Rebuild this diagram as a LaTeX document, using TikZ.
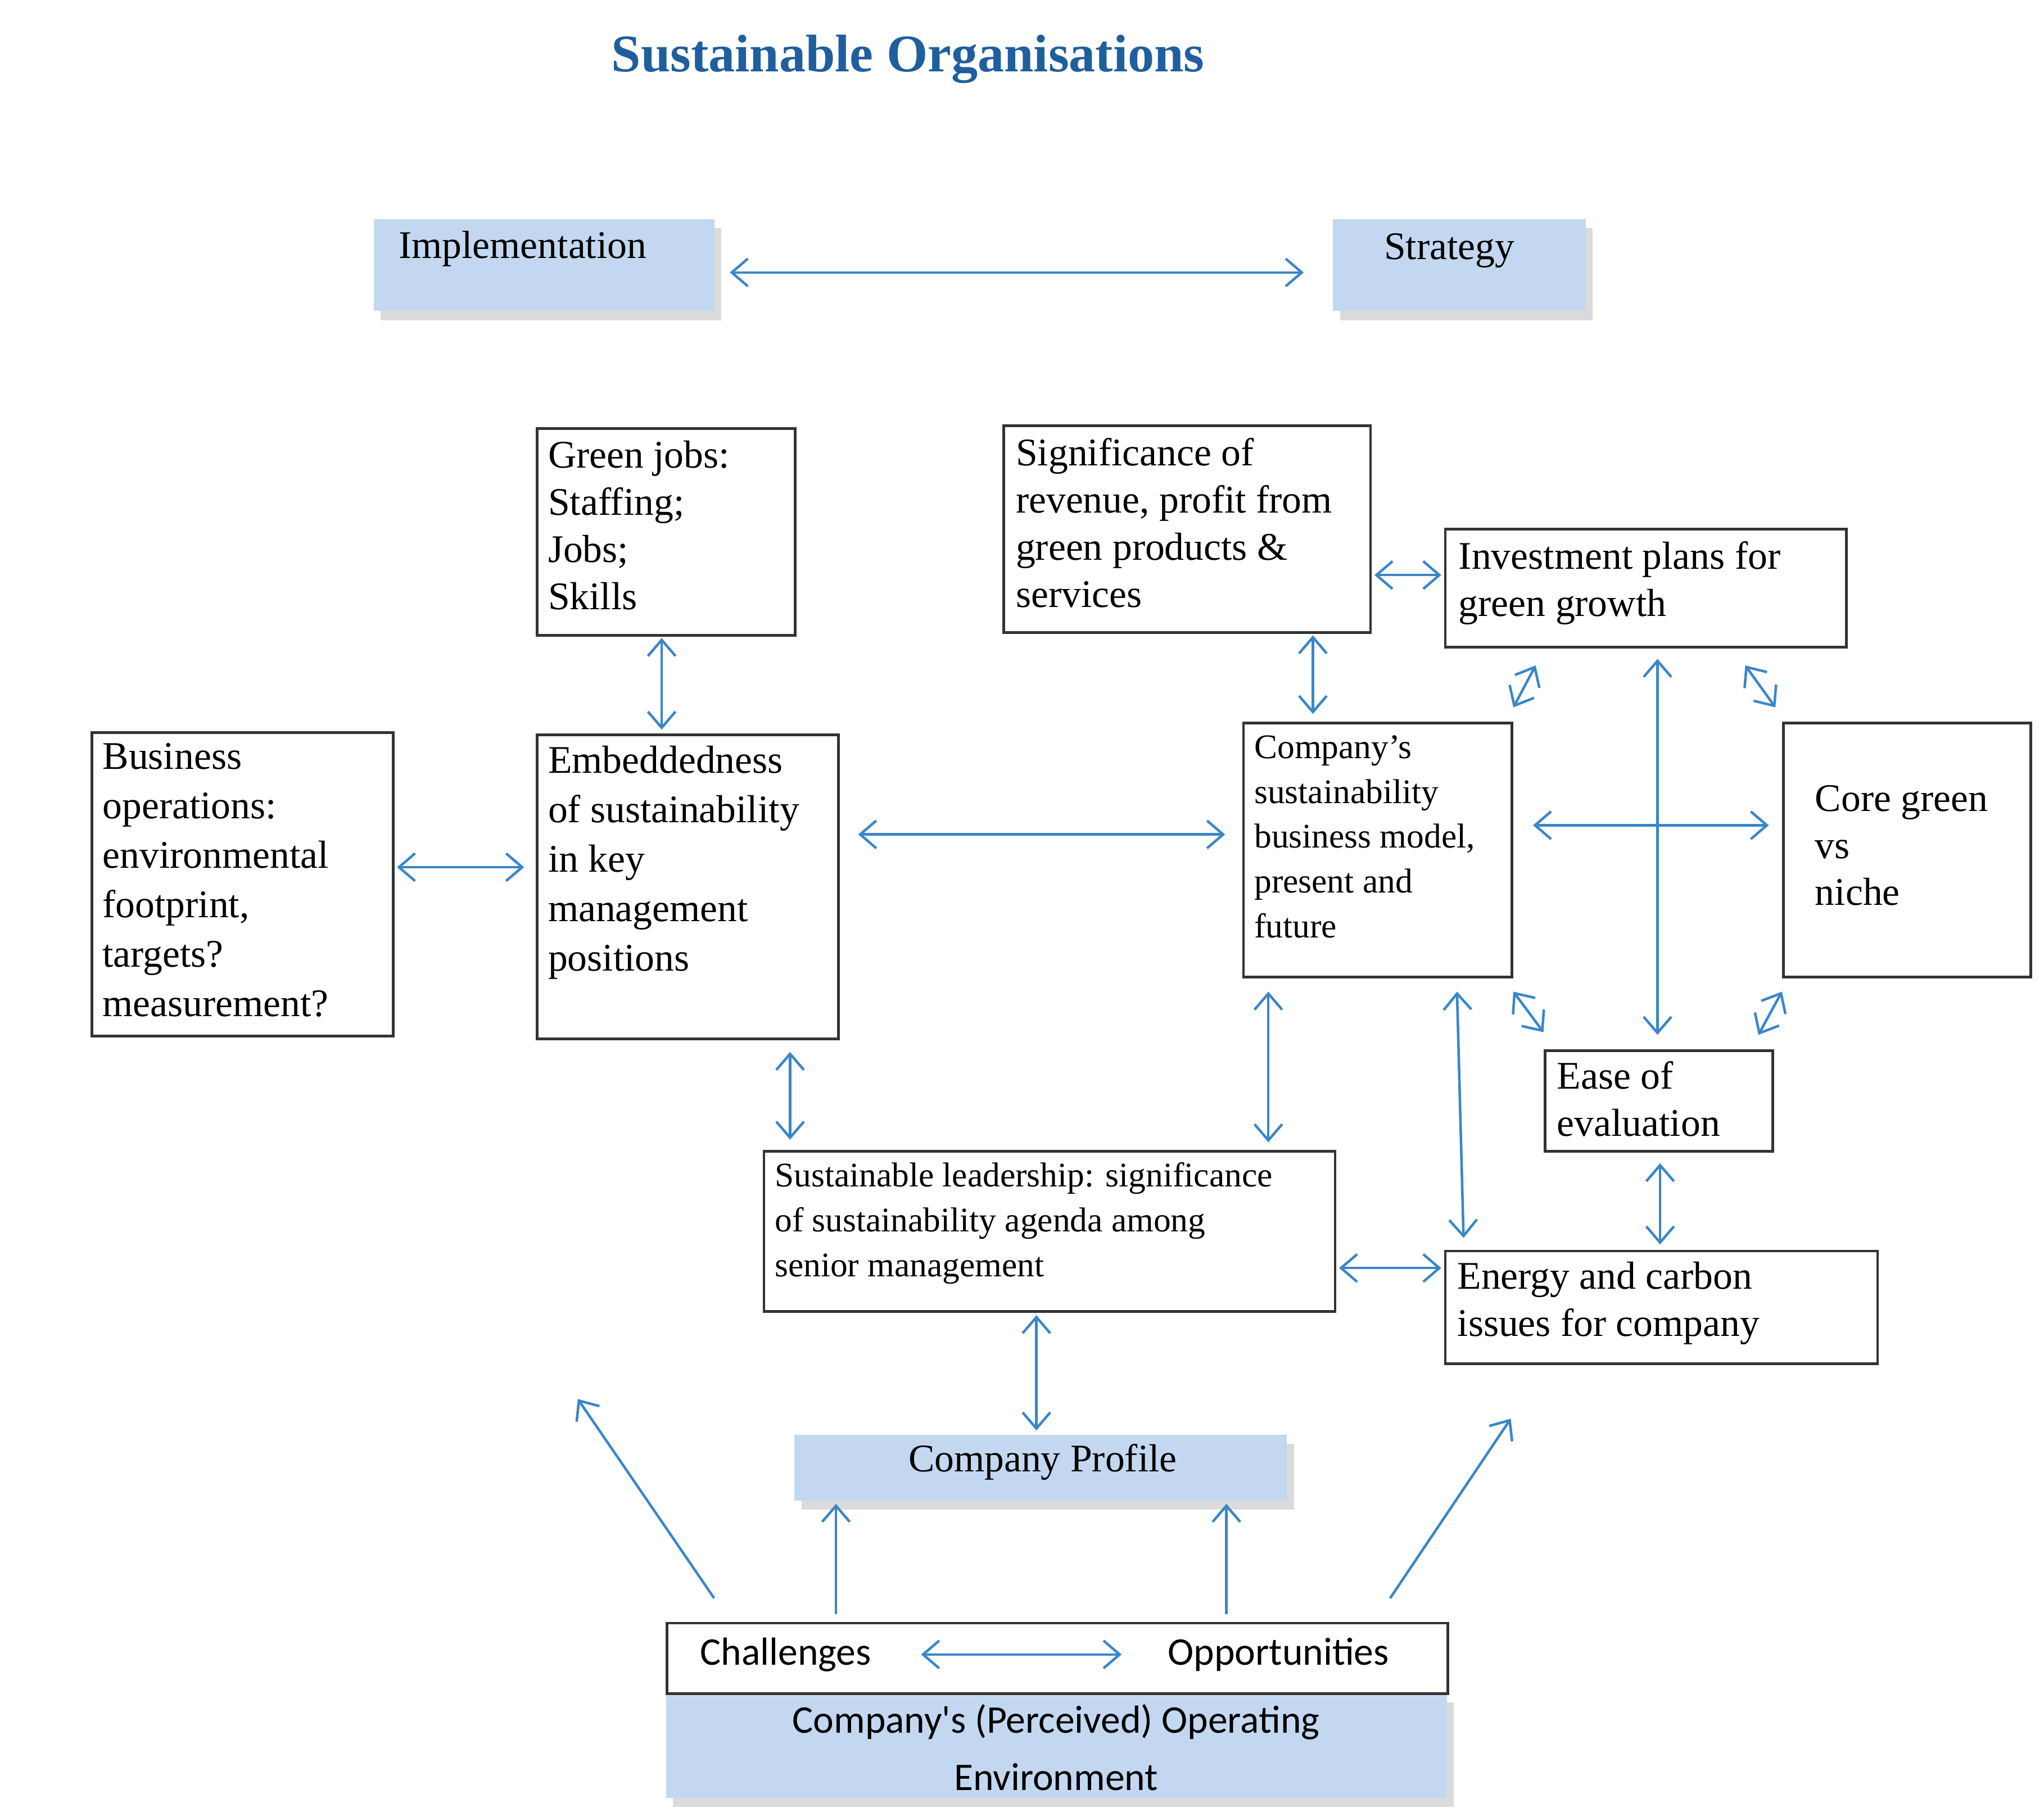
\documentclass[tikz,border=0pt]{standalone}
\usepackage{fontspec}
\setmainfont{Liberation Serif}
\newfontfamily\calib{Carlito}
\usetikzlibrary{arrows.meta,shadows}
\definecolor{lblue}{HTML}{C3D8F0}
\definecolor{abl}{HTML}{3A86C8}
\definecolor{tblue}{HTML}{1F5F9E}
\begin{document}
\begin{tikzpicture}[x=0.02cm,y=-0.02cm,
  box/.style={draw=black!80,line width=1.2pt,anchor=north west,inner sep=0pt},
  bbox/.style={fill=lblue,anchor=north west,inner sep=0pt,drop shadow={shadow xshift=3pt,shadow yshift=-4pt,opacity=0.35,fill=black!40}},
  txt/.style={anchor=north west,align=left,inner sep=0pt,font=\fontsize{17}{20.5}\selectfont},
  stxt/.style={anchor=north west,align=left,inner sep=0pt,font=\fontsize{15}{19.5}\selectfont},
  ar/.style={draw=abl,line width=1.1pt,{Straight Barb[length=7pt,width=12pt]}-{Straight Barb[length=7pt,width=12pt]}},
  ar1/.style={draw=abl,line width=1.1pt,-{Straight Barb[length=7pt,width=12pt]}}]
\useasboundingbox (0,0) rectangle (1560,1387);
\node[font=\fontsize{23}{26}\selectfont\bfseries,text=tblue] (title) at (693,45) {Sustainable Organisations};
% blue boxes
\node[bbox,minimum width=5.2cm,minimum height=1.4cm] (impl) at (285,167) {};
\node[txt] (implt) at (304,176) {Implementation};
\node[bbox,minimum width=3.86cm,minimum height=1.4cm] (strat) at (1017,167) {};
\node[txt] (stratt) at (1056,178) {Strategy};
\draw[ar] (557,208) coordinate (a1) -- (995,208) coordinate (a2);
% boxes
\node[box,minimum width=3.94cm,minimum height=3.16cm] (gj) at (409,326) {};
\node[txt] (gjt) at (418,336) {Green jobs:\\Staffing;\\Jobs;\\Skills};
\node[box,minimum width=5.6cm,minimum height=3.16cm] (sig) at (765,324) {};
\node[txt] (sigt) at (775,334) {Significance of\\revenue, profit from\\green products \&\\services};
\node[box,minimum width=6.12cm,minimum height=1.8cm] (inv) at (1102,403) {};
\node[txt] (invt) at (1113,413) {Investment plans for\\green growth};
\node[box,minimum width=4.6cm,minimum height=4.64cm] (bus) at (69,558) {};
\node[txt,font=\fontsize{17}{21.5}\selectfont] (bust) at (78,567) {Business\\operations:\\environmental\\footprint,\\targets?\\measurement?};
\node[box,minimum width=4.6cm,minimum height=4.64cm] (emb) at (409,560) {};
\node[txt,font=\fontsize{17}{21.5}\selectfont] (embt) at (418,569) {Embeddedness\\of sustainability\\in key\\management\\positions};
\node[box,minimum width=4.1cm,minimum height=3.88cm] (mod) at (948,551) {};
\node[stxt] (modt) at (957,561) {Company's\\sustainability\\business model,\\present and\\future};
\node[box,minimum width=3.78cm,minimum height=3.88cm] (core) at (1360,551) {};
\node[txt] (coret) at (1385,599) {Core green\\vs\\niche};
\node[box,minimum width=3.48cm,minimum height=1.54cm] (ease) at (1178,801) {};
\node[txt] (easet) at (1188,810) {Ease of\\evaluation};
\node[box,minimum width=8.72cm,minimum height=2.44cm] (lead) at (582,878) {};
\node[stxt] (leadt) at (591,887) {Sustainable leadership: significance\\of sustainability agenda among\\senior management};
\node[box,minimum width=6.6cm,minimum height=1.72cm] (en) at (1102,954) {};
\node[txt] (ent) at (1112,963) {Energy and carbon\\issues for company};
\node[bbox,minimum width=7.52cm,minimum height=1.0cm] (prof) at (606,1095) {};
\node[txt] (proft) at (693,1102) {Company Profile};
\node[bbox,minimum width=11.92cm,minimum height=1.6cm] (env) at (508,1292) {};
\node[box,minimum width=11.92cm,minimum height=1.08cm,fill=white] (ch) at (508,1238) {};
\node[txt,font=\calib\fontsize{17}{20}\selectfont] (cht) at (534,1250) {Challenges};
\node[txt,font=\calib\fontsize{17}{20}\selectfont] (opt) at (891,1250) {Opportunities};
\node[font=\calib\fontsize{17}{25}\selectfont,align=center,inner sep=0pt] (envt) at (806,1334) {Company's (Perceived) Operating\\Environment};
% arrows
\draw[ar] (505,487) -- (505,557);
\draw[ar] (303,662) -- (400,662);
\draw[ar] (655,637) -- (935,637);
\draw[ar] (1002,485) -- (1002,545);
\draw[ar] (1049,439) -- (1100,439);
\draw[ar] (1172,508) -- (1155,540);
\draw[ar] (1265,503) -- (1265,790);
\draw[ar] (1170,630) -- (1350,630);
\draw[ar] (1332,508) -- (1355,540);
\draw[ar] (1155,757) -- (1178,788);
\draw[ar] (1360,757) -- (1342,790);
\draw[ar] (603,803) -- (603,870);
\draw[ar] (968,757) -- (968,872);
\draw[ar] (1112,757) -- (1117,945);
\draw[ar] (1267,888) -- (1267,950);
\draw[ar] (1022,968) -- (1100,968);
\draw[ar] (791,1004) -- (791,1092);
\draw[ar1] (638,1232) -- (638,1148);
\draw[ar1] (936,1232) -- (936,1148);
\draw[ar1] (545,1220) -- (441,1068);
\draw[ar1] (1061,1220) -- (1153,1083);
\draw[ar] (703,1263) -- (856,1263);
\end{tikzpicture}
\end{document}
